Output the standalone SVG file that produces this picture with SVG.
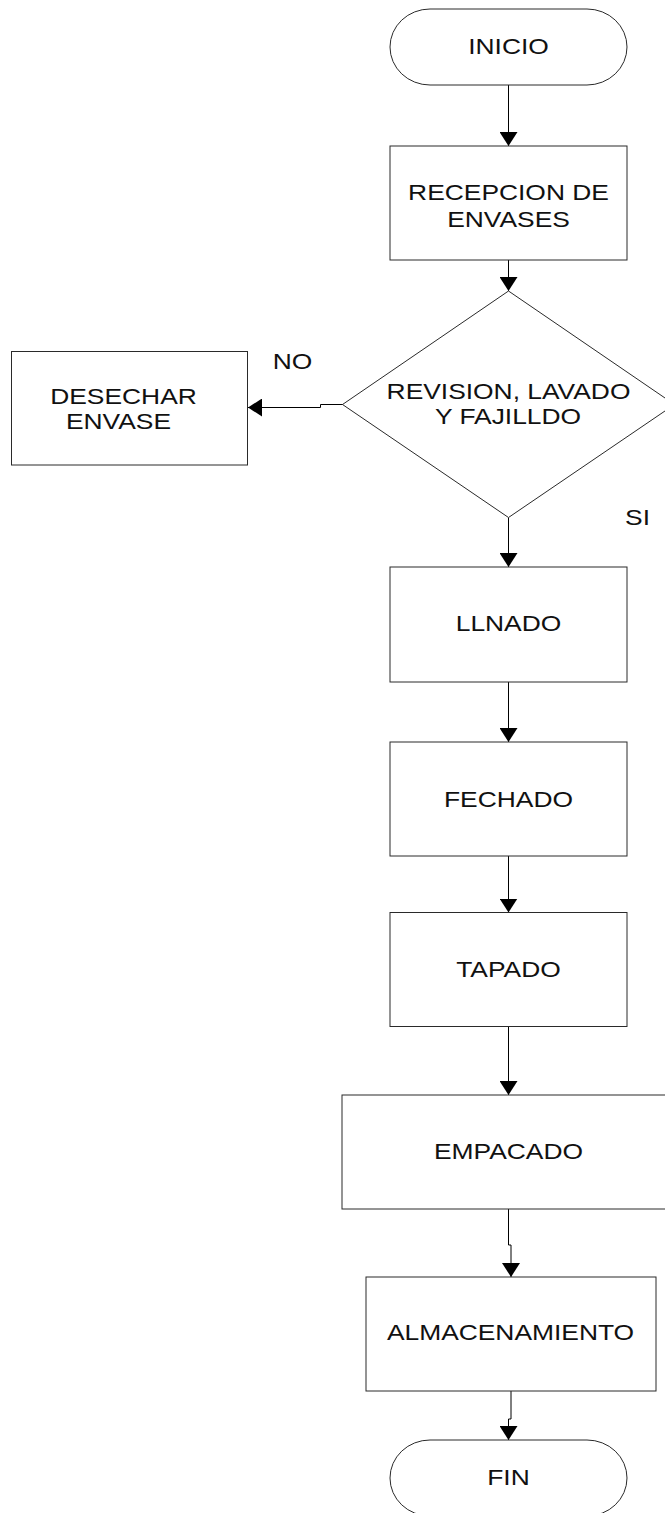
<svg xmlns="http://www.w3.org/2000/svg" width="665" height="1513" viewBox="0 0 665 1513">
  <style>
    .shape { fill: #ffffff; stroke: #2a2a2a; stroke-width: 1; }
    .wire { fill: none; stroke: #000000; stroke-width: 1; }
    .lbl { font-family: "Liberation Sans", Arial, sans-serif; font-size: 22px; fill: #111111; text-anchor: middle; }
  </style>
  <defs>
    <marker id="arrow" markerUnits="userSpaceOnUse" markerWidth="14" markerHeight="18" refX="14" refY="9" orient="auto">
      <path d="M0,0 L14,9 L0,18 Z" fill="#000000"/>
    </marker>
  </defs>
  <rect width="665" height="1513" fill="#ffffff"/>

  <!-- connectors -->
  <g id="connectors">
    <path class="wire" d="M508.5,85 V146" marker-end="url(#arrow)"/>
    <path class="wire" d="M508.5,260 V291" marker-end="url(#arrow)"/>
    <path class="wire" d="M343,404.5 H320.5 V407.5 H248" marker-end="url(#arrow)"/>
    <path class="wire" d="M508.5,517.5 V567" marker-end="url(#arrow)"/>
    <path class="wire" d="M508.5,682 V742" marker-end="url(#arrow)"/>
    <path class="wire" d="M508.5,856 V912.5" marker-end="url(#arrow)"/>
    <path class="wire" d="M508.5,1026.5 V1095" marker-end="url(#arrow)"/>
    <path class="wire" d="M508.5,1209 V1245 H511 V1277" marker-end="url(#arrow)"/>
    <path class="wire" d="M511,1391 V1419 H508.5 V1440" marker-end="url(#arrow)"/>
  </g>

  <!-- branch labels -->
  <g id="label-no">
    <text class="lbl" transform="translate(292.5 369) scale(1.2 1)">NO</text>
  </g>
  <g id="label-si">
    <text class="lbl" transform="translate(637.5 525) scale(1.2 1)">SI</text>
  </g>

  <g id="inicio">
    <rect class="shape" x="390" y="9" width="237" height="76" rx="40" ry="38"/>
    <text class="lbl" transform="translate(508.5 54) scale(1.2 1)">INICIO</text>
  </g>

  <g id="recepcion">
    <rect class="shape" x="390" y="146" width="237" height="114"/>
    <text class="lbl" transform="translate(508.5 200) scale(1.2 1)">RECEPCION DE</text>
    <text class="lbl" transform="translate(508.5 227) scale(1.2 1)">ENVASES</text>
  </g>

  <g id="revision">
    <polygon class="shape" points="508.5,291 674.5,404.5 508.5,517.5 342.5,404.5"/>
    <text class="lbl" transform="translate(508.5 398.5) scale(1.2 1)">REVISION, LAVADO</text>
    <text class="lbl" transform="translate(508 424) scale(1.2 1)">Y FAJILLDO</text>
  </g>

  <g id="desechar">
    <rect class="shape" x="11.5" y="351.5" width="236" height="113.5"/>
    <text class="lbl" transform="translate(123.5 404) scale(1.2 1)">DESECHAR</text>
    <text class="lbl" transform="translate(118.5 428.5) scale(1.2 1)">ENVASE</text>
  </g>

  <g id="llenado">
    <rect class="shape" x="390" y="567" width="237" height="115"/>
    <text class="lbl" transform="translate(508.5 631) scale(1.2 1)">LLNADO</text>
  </g>

  <g id="fechado">
    <rect class="shape" x="390" y="742" width="237" height="114"/>
    <text class="lbl" transform="translate(508.5 807) scale(1.2 1)">FECHADO</text>
  </g>

  <g id="tapado">
    <rect class="shape" x="390" y="912.5" width="237" height="114"/>
    <text class="lbl" transform="translate(508.5 977) scale(1.2 1)">TAPADO</text>
  </g>

  <g id="empacado">
    <rect class="shape" x="342" y="1095" width="333" height="114"/>
    <text class="lbl" transform="translate(508.5 1159) scale(1.2 1)">EMPACADO</text>
  </g>

  <g id="almacenamiento">
    <rect class="shape" x="366" y="1277" width="290" height="114"/>
    <text class="lbl" transform="translate(510.5 1340) scale(1.2 1)">ALMACENAMIENTO</text>
  </g>

  <g id="fin">
    <rect class="shape" x="390" y="1440" width="237" height="76" rx="40" ry="38"/>
    <text class="lbl" transform="translate(508.5 1485) scale(1.2 1)">FIN</text>
  </g>
</svg>
